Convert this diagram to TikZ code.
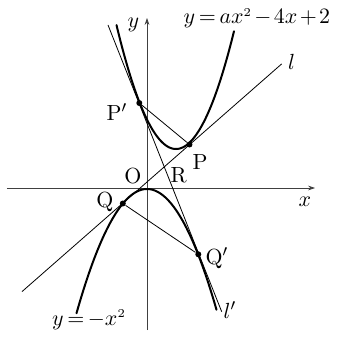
\documentclass[tikz,border=0pt]{standalone}
\usepackage{amsmath}
\usepackage{fontspec}
\usetikzlibrary{arrows.meta}

\begin{document}
\begin{tikzpicture}[
    x=0.5pt, y=0.5pt,
    font=\fontsize{10.95}{13}\selectfont,
    axis/.style={-{Stealth[length=3.5pt, width=2.4pt]}, line width=0.35pt, black!75},
    curve/.style={line width=1pt, line cap=round},
    thinline/.style={line width=0.4pt},
    dot/.style={circle, fill, inner sep=0pt, minimum size=3pt},
    lbl/.style={inner sep=0pt}
  ]
    \useasboundingbox (-147,-150) rectangle (191,188);
    \thickmuskip=3mu \medmuskip=2mu

    % axes
    \coordinate (xstart) at (-140,0);
    \coordinate (xend)   at (168,0);
    \coordinate (ystart) at (0,-142);
    \coordinate (yend)   at (0,170);
    \draw[axis] (xstart) -- (xend);
    \draw[axis] (ystart) -- (yend);
    \node[lbl] (xlab) at (158,-13.7) {$x$};
    \node[lbl] (ylab) at (-13.7,163) {$y$};
    \node[lbl] (O) at (-14,12.2) {O};

    % parabolas
    \draw[curve, domain=-30.5:87, samples=80] plot (\x, {0.035*(\x-29)^2+39});
    \draw[curve, domain=-70.5:69.5, samples=80] plot (\x, {-1-0.025*\x*\x});
    \node[lbl, anchor=base west] (top) at (36.3,164) {$y=ax^{\scriptscriptstyle 2}-4x+2$};
    \node[lbl, anchor=base west] (bottom) at (-95.3,-137) {$y=-x^{\scriptscriptstyle 2}$};

    % common tangents
    \coordinate (l-start)  at (-125,-103.6);
    \coordinate (l-end)    at (134.7,124.1);
    \coordinate (lp-start) at (-39,163);
    \coordinate (lp-end)   at (74.7,-123.7);
    \draw[thinline] (l-start) -- (l-end);
    \draw[thinline] (lp-start) -- (lp-end);
    \node[lbl] (llab)  at (144.7,126.3) {$l$};
    \node[lbl] (lplab) at (83,-122) {$l'$};

    % points of contact
    \node[dot] (P)  at (42.5,43.5) {};
    \node[dot] (Pp) at (-7.7,85) {};
    \node[dot] (Q)  at (-24.2,-15.5) {};
    \node[dot] (Qp) at (51.3,-66.3) {};
    \draw[thinline] (Pp) -- (P);
    \draw[thinline] (Q) -- (Qp);

    \node[lbl] (Plab)  at (53,26.3) {P};
    \node[lbl] (Pplab) at (-30,76.3) {P$'$};
    \node[lbl] (Qlab)  at (-42,-14) {Q};
    \node[lbl] (Qplab) at (70,-70) {Q$'$};
    \node[lbl] (R) at (31.8,12.7) {R};
  \end{tikzpicture}
\end{document}
